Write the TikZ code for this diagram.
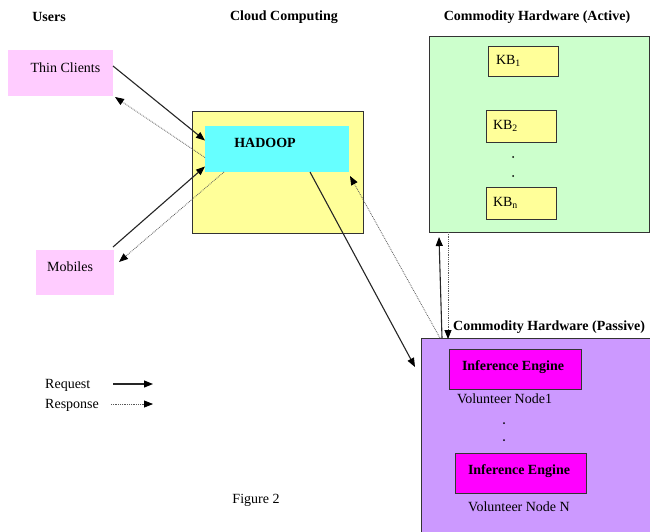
\documentclass[tikz,border=0pt]{standalone}
\usepackage{fontspec}
\setmainfont{Liberation Serif}
\usetikzlibrary{arrows.meta,calc}
\definecolor{pinkc}{HTML}{FFCCFF}
\definecolor{yellc}{HTML}{FFFF99}
\definecolor{cyanc}{HTML}{66FFFF}
\definecolor{greenc}{HTML}{CCFFCC}
\definecolor{purpc}{HTML}{CC99FF}
\definecolor{magc}{HTML}{FF00FF}
\tikzset{
  box/.style={draw=black!80, line width=0.9pt, inner sep=0pt, outer sep=0pt},
  plain/.style={inner sep=0pt, outer sep=0pt},
  txt/.style={font=\fontsize{14}{16}\selectfont, inner sep=0pt},
  btxt/.style={font=\fontsize{14}{16}\selectfont\bfseries, inner sep=0pt},
  req/.style={line width=1.1pt, draw=black!85, -{Triangle[length=9pt,width=7pt,color=black]}},
  resp/.style={line width=0.8pt, draw=black!65, densely dotted, -{Triangle[length=9pt,width=7pt,color=black]}},
}
\begin{document}
\begin{tikzpicture}[x=1pt,y=-1pt]
\useasboundingbox (0,0) rectangle (650,531);
\fill[white] (0,0) rectangle (650,531);
% titles
\node[btxt] (tusers) at (49,17) {Users};
\node[btxt] (tcloud) at (284,17) {Cloud Computing};
\node[btxt] (tactive) at (537,17) {Commodity Hardware (Active)};
% user boxes
\node[plain, fill=pinkc, minimum width=105, minimum height=46] (thin) at (60.5,73) {};
\node[txt] (thintxt) at (65.5,68) {Thin Clients};
\node[plain, fill=pinkc, minimum width=78, minimum height=45] (mob) at (75,272.5) {};
\node[txt] (mobtxt) at (70,267) {Mobiles};
% cloud
\node[box, fill=yellc, minimum width=171, minimum height=122] (cloud) at (277.5,172) {};
\node[plain, fill=cyanc, minimum width=144, minimum height=46] (hadoop) at (277,149) {};
\node[btxt] (hadooptxt) at (265,143) {HADOOP};
% active hardware
\node[box, fill=greenc, minimum width=220, minimum height=196] (green) at (539,134) {};
\node[box, fill=yellc, minimum width=70, minimum height=30, text width=50, align=left, font=\fontsize{14}{16}\selectfont, inner sep=0pt] (kb1) at (523,61) {\hspace*{-2pt}KB\textsubscript{1}};
\node[box, fill=yellc, minimum width=70, minimum height=32, text width=50, align=left, font=\fontsize{14}{16}\selectfont, inner sep=0pt] (kb2) at (521,126) {\hspace*{-3pt}KB\textsubscript{2}};
\node[box, fill=yellc, minimum width=70, minimum height=32, text width=50, align=left, font=\fontsize{14}{16}\selectfont, inner sep=0pt] (kbn) at (521,203) {\hspace*{-3pt}KB\textsubscript{n}};
\fill (513,157) circle (1pt);
\fill (513,176) circle (1pt);
% passive hardware
\node[btxt, anchor=west] (tpassive) at (453,327) {Commodity Hardware (Passive)};
\node[box, fill=purpc, minimum width=232, minimum height=196, anchor=north west] (purp) at (421,338) {};
\node[box, fill=magc, minimum width=132, minimum height=40] (ie1) at (515,369) {};
\node[btxt] (ie1txt) at (513,367) {Inference Engine};
\node[txt] (vn1) at (504.5,399) {Volunteer Node1};
\fill (504,423) circle (1pt);
\fill (504,440) circle (1pt);
\node[box, fill=magc, minimum width=131, minimum height=40] (ie2) at (520.5,473) {};
\node[btxt] (ie2txt) at (519,471) {Inference Engine};
\node[txt] (vnn) at (519,507) {Volunteer Node N};
% connectors
\draw[req] ([yshift=7pt]thin.east) -- ([yshift=8.5pt]hadoop.west);
\draw[resp] ([yshift=-8.5pt]hadoop.west) -- ([xshift=2pt,yshift=-1pt]thin.south east);
\draw[req] ([xshift=-1pt,yshift=3pt]mob.north east) -- ([yshift=-17.5pt]hadoop.west);
\draw[resp] ([xshift=19pt]hadoop.south west) -- ([xshift=5pt,yshift=-12pt]mob.north east);
\draw[req] ([xshift=105pt]hadoop.south west) -- ([xshift=-6pt,yshift=-29pt]purp.north west);
\draw[resp] ([xshift=19pt]purp.north west) -- ([xshift=1pt,yshift=-4pt]hadoop.south east);
\draw[req] ([xshift=21pt]purp.north west) -- ([xshift=10pt,yshift=-5pt]green.south west);
\draw[resp] ([xshift=19pt]green.south west) -- ([xshift=27pt,yshift=-1pt]purp.north west);
% legend
\node[txt, anchor=west] (lreq) at (45,385) {Request};
\node[txt, anchor=west] (lresp) at (45,405) {Response};
\coordinate (lreqa) at (113,384);
\coordinate (lreqb) at (153,384);
\coordinate (lrespa) at (111,404);
\coordinate (lrespb) at (153,404);
\draw[req] (lreqa) -- (lreqb);
\draw[resp] (lrespa) -- (lrespb);
\node[txt] (fig) at (256,500) {Figure 2};
\end{tikzpicture}
\end{document}
